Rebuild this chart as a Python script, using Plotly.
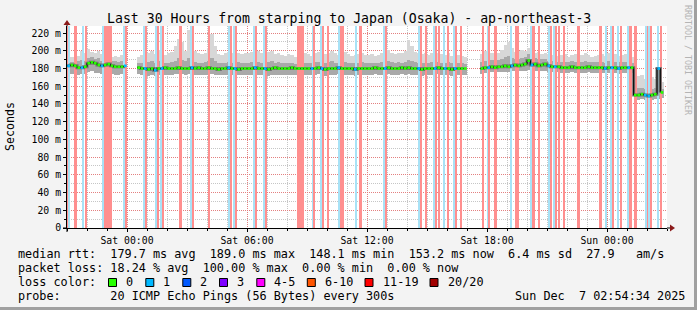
import plotly.graph_objects as go
from datetime import datetime, timedelta

# ---------------- data ----------------
T0 = datetime(2025, 12, 5, 21, 0)      # window start (Fri 21:00)
T_END = datetime(2025, 12, 7, 3, 0)    # window end
STEP_MIN = 10                          # sample step in minutes

# median rtt (ms), one value per 10-minute step
median_ms = [
    183,184,183,181,181,182,186,187,186,184,183,184,185,183,182,182,182,183,
    None,None,None,181,180,180,179,180,178,180,180,181,180,180,180,181,180,180,
    180,181,180,181,180,180,181,180,180,179,180,180,181,180,180,179,180,180,
    180,180,181,180,180,180,179,180,181,180,180,180,180,181,180,180,180,180,
    180,180,180,181,180,179,180,180,180,181,180,180,180,180,179,180,180,180,
    180,180,181,180,180,180,181,180,180,180,181,180,181,180,180,180,179,180,
    180,180,180,181,180,180,180,179,180,180,180,180,None,None,None,None,180,181,
    181,182,181,182,182,183,182,183,184,183,184,185,189,184,185,183,184,185,
    183,182,182,182,181,181,181,182,181,181,181,181,182,181,181,181,181,180,
    181,181,181,180,181,181,181,181,150,150,151,150,149,150,151,180,153,None,
]
# smoke: max ping (ms)
smoke_max = [
    195,193,196,194,200,197,202,199,197,200,196,197,195,193,194,193,195,194,
    None,None,None,193,195,194,197,200,196,201,199,195,197,199,205,213,210,200,
    224,205,200,197,196,198,203,219,205,196,195,197,199,197,195,198,196,197,
    197,199,202,200,197,201,199,200,196,198,195,194,196,195,193,195,198,197,
    196,194,197,199,195,196,198,200,197,195,197,199,196,194,195,196,197,195,
    195,196,194,195,197,199,201,197,196,198,197,200,212,205,199,197,196,198,
    195,197,194,198,196,195,197,194,196,195,194,193,None,None,None,None,196,200,
    199,198,200,198,201,207,210,203,199,200,201,200,203,199,197,199,196,197,
    196,195,197,194,195,196,193,195,196,194,195,197,195,193,194,195,196,194,
    197,195,196,194,195,196,194,193,170,172,173,168,166,170,168,170,165,None,
]
# smoke: upper quartile ping (ms)
smoke_q3 = [
    188,187,189,188,190,189,192,193,191,192,189,190,190,188,188,187,189,188,
    None,None,None,186,186,185,187,188,186,188,187,186,186,187,189,192,190,188,
    192,189,187,186,186,187,188,192,188,186,186,186,187,186,186,187,186,186,
    186,187,188,187,186,187,187,188,186,187,186,186,186,186,185,186,187,186,
    186,186,187,187,186,186,187,188,186,186,186,187,186,186,186,186,187,186,
    186,186,186,186,187,187,188,187,186,187,186,187,190,189,187,186,186,186,
    186,187,186,187,186,186,187,186,186,186,186,185,None,None,None,None,187,189,
    189,190,190,190,191,193,194,192,191,191,192,193,196,192,192,191,191,191,
    189,188,188,187,187,187,187,188,187,187,187,188,187,187,187,187,187,186,
    188,187,187,187,187,187,187,186,160,158,158,157,156,157,158,158,157,None,
]
# smoke: min ping (ms)
smoke_min = [
    174,174,173,173,174,174,176,177,175,175,174,175,175,174,173,173,174,174,
    None,None,None,174,173,173,172,173,172,173,173,173,173,173,174,174,174,173,
    174,173,173,173,173,173,173,174,173,173,173,173,173,173,173,173,173,173,
    173,173,174,173,173,173,172,173,173,173,173,173,173,173,173,173,173,173,
    173,173,173,174,173,172,173,173,173,174,173,173,173,173,172,173,173,173,
    173,173,174,173,173,173,174,173,173,173,174,173,174,173,173,173,172,173,
    173,173,173,174,173,173,173,172,173,173,173,173,None,None,None,None,174,175,
    175,176,175,176,176,176,176,177,177,177,177,177,178,177,177,177,177,177,
    176,176,176,176,175,175,175,176,175,175,175,175,176,175,175,175,175,175,
    175,175,175,174,175,175,175,175,145,145,146,145,144,145,146,146,147,None,
]

# packet-loss bars: start (minutes after window start), length (5-min steps), class
loss_start_min = [0,5,20,45,55,105,110,170,175,230,235,265,270,280,285,335,370,375,425,
                  485,490,500,505,560,565,590,595,690,735,740,760,765,780,815,820,
                  865,875,950,955,1055,1060,1075,1100,1105,1115,1130,1140,1160,1165,1180,
                  1245,1260,1265,1280,1330,1345,1390,1395,1415,1445,1450,1460,1465,1475,1490,
                  1530,1595,1615,1630,1635,1650,1660,1680,1685,1700,1735,1740,1745,1750,1770,1780]
loss_len = [1,1,2,1,1,1,5,1,1,1,1,1,1,1,1,2,1,1,1,
            1,1,1,1,1,1,1,1,4,1,1,1,1,1,1,2,
            1,2,1,1,1,1,1,1,1,1,1,1,1,1,1,
            1,1,1,2,1,2,1,2,1,1,1,1,1,1,1,
            2,2,1,1,1,1,1,1,2,2,1,1,1,1,1,1]
loss_cls = ['r','b','r','b','r','b','r','b','r','b','r','b','r','b','r','r','b','r','r',
            'b','r','b','r','b','r','b','r','r','b','r','b','r','r','b','r',
            'b','r','b','r','b','r','r','b','r','r','b','r','b','r','r',
            'r','b','r','r','b','r','b','r','r','b','r','b','r','r','r',
            'r','r','b','b','r','b','r','b','r','r','b','r','b','r','b','r']

y_tick_vals = [0, 20, 40, 60, 80, 100, 120, 140, 160, 180, 200, 220]
y_tick_text = ["0", "20 m", "40 m", "60 m", "80 m", "100 m", "120 m", "140 m",
               "160 m", "180 m", "200 m", "220 m"]
x_tick_vals = ["2025-12-06 00:00", "2025-12-06 06:00", "2025-12-06 12:00",
               "2025-12-06 18:00", "2025-12-07 00:00"]
x_tick_text = ["Sat 00:00", "Sat 06:00", "Sat 12:00", "Sat 18:00", "Sun 00:00"]

legend_labels = ["0", "1", "2", "3", "4-5", "6-10", "11-19", "20/20"]
legend_colors = ["#26ff00", "#00b8ff", "#0059ff", "#7e00ff", "#ff00ff", "#ff5500", "#ff0000", "#a10000"]

title_text = "Last 30 Hours from starping to Japan (Osaka) - ap-northeast-3"
stat_rows = [
    "median rtt:  179.7 ms avg  189.0 ms max  148.1 ms min  153.2 ms now  6.4 ms sd  27.9   am/s",
    "packet loss: 18.24 % avg  100.00 % max  0.00 % min  0.00 % now",
]
probe_text = "probe:       20 ICMP Echo Pings (56 Bytes) every 300s"
date_text = "Sun Dec  7 02:54:34 2025"

# ---------------- layout constants ----------------
W, H = 697, 310
PL, PR, PT, PB = 67, 667, 26, 228
Y_TOP = 228
MONO = "DejaVu Sans Mono"
LOSS_BG = {'b': '#a8e2f6', 'r': '#ff8f8f'}

def fx(px):
    return (px - PL) / (PR - PL)

def fy(py):
    return (PB - py) / (PB - PT)

n = len(median_ms)
t_start = [T0 + timedelta(minutes=STEP_MIN * i) for i in range(n)]
t_mid = [t + timedelta(minutes=STEP_MIN / 2) for t in t_start]
step_ms = STEP_MIN * 60 * 1000

def span(lo, hi):
    return [None if (a is None or b is None) else b - a for a, b in zip(lo, hi)]

fig = go.Figure()

# smoke layers
fig.add_trace(go.Bar(x=t_mid, y=span(smoke_min, smoke_max), base=smoke_min, width=step_ms,
                     marker=dict(color="#d7d7d7", line=dict(width=0)), hoverinfo="skip"))
fig.add_trace(go.Bar(x=t_mid, y=span(smoke_min, smoke_q3), base=smoke_min, width=step_ms,
                     marker=dict(color="#a9a9a9", line=dict(width=0)), hoverinfo="skip"))
fig.add_trace(go.Scatter(x=t_start, y=median_ms, mode="lines", line=dict(color="#707070", width=3, shape="hv"),
                         hoverinfo="skip"))

# loss bars
lx, lw, lc = [], [], []
for s, l, c in zip(loss_start_min, loss_len, loss_cls):
    lx.append(T0 + timedelta(minutes=s + 2.5 * l))
    lw.append(l * 5 * 60 * 1000)
    lc.append(LOSS_BG[c])
fig.add_trace(go.Bar(x=lx, y=[Y_TOP] * len(lx), base=0, width=lw,
                     marker=dict(color=lc, line=dict(width=0)), hoverinfo="skip"))

# median line + colored markers
fig.add_trace(go.Scatter(x=t_start, y=median_ms, mode="lines", line=dict(color="black", width=1, shape="hv"),
                         hoverinfo="skip"))
mcol = []
for i in range(n):
    a = STEP_MIN * i
    blue = any(c == 'b' and s < a + STEP_MIN and s + 5 * l > a
               for s, l, c in zip(loss_start_min, loss_len, loss_cls))
    mcol.append(legend_colors[1] if blue else legend_colors[0])
fig.add_trace(go.Scatter(x=t_mid, y=median_ms, mode="markers",
                         marker=dict(symbol="square", size=2.7, color=mcol, line=dict(width=0)),
                         hoverinfo="skip"))

grid_major = "rgba(230,120,120,0.9)"
grid_minor = "rgba(160,160,160,0.6)"

fig.update_layout(
    width=W, height=H,
    margin=dict(l=PL, r=W - PR, t=PT, b=H - PB, pad=0),
    paper_bgcolor="#f3f3f3", plot_bgcolor="white",
    showlegend=False, barmode="overlay", bargap=0,
    font=dict(family=MONO, size=10, color="black"),
    xaxis=dict(type="date", range=[T0, T_END], tickvals=x_tick_vals, ticktext=x_tick_text,
               showgrid=True, gridcolor=grid_major, griddash="1px,1px", gridwidth=1,
               ticks="outside", ticklen=3, tickcolor="black", tickfont=dict(size=9.8),
               showline=True, linecolor="black", linewidth=1, zeroline=False,
               minor=dict(dtick=3600000, tick0="2025-12-05 21:00", showgrid=True,
                          gridcolor=grid_minor, griddash="1px,1px", ticks="outside",
                          ticklen=2, tickcolor="black")),
    yaxis=dict(range=[0, Y_TOP], tickvals=y_tick_vals, ticktext=y_tick_text,
               showgrid=True, gridcolor=grid_major, griddash="1px,1px", gridwidth=1,
               ticks="outside", ticklen=3, tickcolor="black", tickfont=dict(size=9.8),
               showline=True, linecolor="black", linewidth=1, zeroline=False,
               minor=dict(dtick=10, showgrid=True, gridcolor=grid_minor, griddash="1px,1px",
                          ticks="outside", ticklen=2, tickcolor="black")),
)

NB = "\u00a0"
ann = []
ann.append(dict(text=title_text.replace(" ", NB), x=fx(348.5), y=fy(19), xref="paper", yref="paper",
                xanchor="center", yanchor="middle", showarrow=False, font=dict(size=13.2, family=MONO)))
ann.append(dict(text="Seconds", x=fx(10), y=fy(127), xref="paper", yref="paper", textangle=-90,
                xanchor="center", yanchor="middle", showarrow=False, font=dict(size=11.6, family=MONO)))
ann.append(dict(text="RRDTOOL / TOBI OETIKER".replace(" ", NB), x=fx(688), y=fy(60), xref="paper", yref="paper",
                textangle=90, xanchor="center", yanchor="middle", showarrow=False,
                font=dict(size=8.3, family=MONO, color="#b4b4b4")))
row_y = [254.5, 268.3, 282.1, 295.9]
for k, s in enumerate(stat_rows):
    ann.append(dict(text=s.replace(" ", NB), x=fx(15.5), y=fy(row_y[k]), xref="paper", yref="paper",
                    xanchor="left", yanchor="middle", showarrow=False, font=dict(size=11.8, family=MONO)))
ann.append(dict(text="loss color:", x=fx(15.5), y=fy(row_y[2]), xref="paper", yref="paper",
                xanchor="left", yanchor="middle", showarrow=False, font=dict(size=11.8, family=MONO)))
ann.append(dict(text=probe_text.replace(" ", NB), x=fx(15.5), y=fy(row_y[3]), xref="paper", yref="paper",
                xanchor="left", yanchor="middle", showarrow=False, font=dict(size=11.8, family=MONO)))
ann.append(dict(text=date_text.replace(" ", NB), x=fx(513), y=fy(row_y[3]), xref="paper", yref="paper",
                xanchor="left", yanchor="middle", showarrow=False, font=dict(size=11.8, family=MONO)))

shapes = []
sq_x = [108.5, 145.8, 182.8, 219.5, 256.8, 307.3, 365.0, 430.0]
for lbl, col, x0 in zip(legend_labels, legend_colors, sq_x):
    shapes.append(dict(type="rect", xref="paper", yref="paper", x0=fx(x0), x1=fx(x0 + 8),
                       y0=fy(286.5), y1=fy(278.5), fillcolor=col, line=dict(color="black", width=1)))
    ann.append(dict(text=lbl, x=fx(x0 + 15.5), y=fy(row_y[2]), xref="paper", yref="paper",
                    xanchor="left", yanchor="middle", showarrow=False, font=dict(size=11.8, family=MONO)))

# axis extensions and arrows
shapes.append(dict(type="line", xref="paper", yref="paper", x0=fx(PR), x1=fx(671), y0=0, y1=0,
                   line=dict(color="black", width=1)))
shapes.append(dict(type="line", xref="paper", yref="paper", x0=fx(63), x1=fx(PL), y0=0, y1=0,
                   line=dict(color="black", width=1)))
shapes.append(dict(type="line", xref="paper", yref="paper", x0=0, x1=0, y0=fy(232), y1=0,
                   line=dict(color="black", width=1)))
shapes.append(dict(type="line", xref="paper", yref="paper", x0=0, x1=0, y0=1, y1=fy(22),
                   line=dict(color="black", width=1)))
shapes.append(dict(type="path", xref="paper", yref="paper",
                   path=f"M {fx(670)} {fy(224.5)} L {fx(675)} {fy(228)} L {fx(670)} {fy(231.5)} Z",
                   fillcolor="#8b1a1a", line=dict(width=0)))
shapes.append(dict(type="path", xref="paper", yref="paper",
                   path=f"M {fx(63.5)} {fy(25)} L {fx(67)} {fy(20)} L {fx(70.5)} {fy(25)} Z",
                   fillcolor="#8b1a1a", line=dict(width=0)))
# frame bevel
shapes.append(dict(type="rect", xref="paper", yref="paper", x0=fx(694), x1=fx(697), y0=fy(310), y1=fy(0),
                   fillcolor="#a0a0a0", line=dict(width=0)))
shapes.append(dict(type="rect", xref="paper", yref="paper", x0=fx(0), x1=fx(697), y0=fy(310), y1=fy(307),
                   fillcolor="#a0a0a0", line=dict(width=0)))

fig.update_layout(annotations=ann, shapes=shapes)
fig.write_html("out.html")
